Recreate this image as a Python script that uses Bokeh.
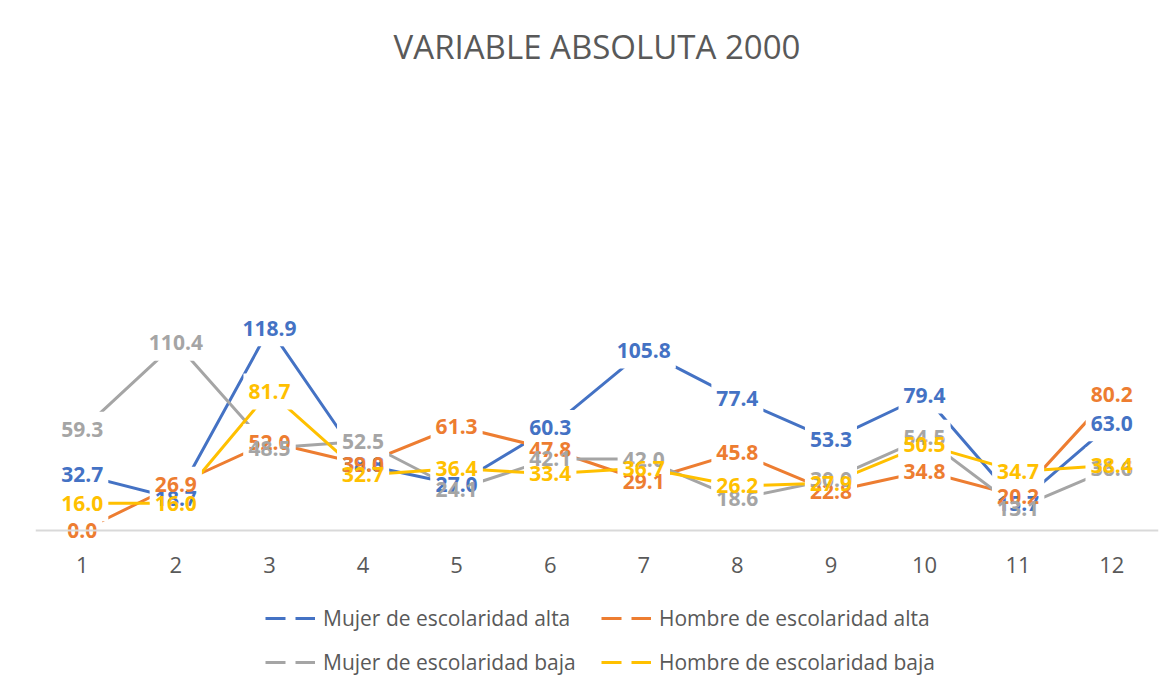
from bokeh.plotting import figure
from bokeh.layouts import column
from bokeh.models import FactorRange, Range1d, Span, Legend, LegendItem
from bokeh.core.properties import value
from bokeh.embed import file_html
from bokeh.resources import INLINE

categories = ["1", "2", "3", "4", "5", "6", "7", "8", "9", "10", "11", "12"]
mujer_alta = [32.7, 18.7, 118.9, 38.8, 27.0, 60.3, 105.8, 77.4, 53.3, 79.4, 15.7, 63.0]
hombre_alta = [0.0, 26.9, 52.0, 39.0, 61.3, 47.8, 29.1, 45.8, 22.8, 34.8, 20.2, 80.2]
mujer_baja = [59.3, 110.4, 48.5, 52.5, 24.1, 42.1, 42.0, 18.6, 30.0, 54.5, 13.1, 36.6]
hombre_baja = [16.0, 16.0, 81.7, 32.7, 36.4, 33.4, 36.7, 26.2, 27.9, 50.5, 34.7, 38.4]

series_names = ["Mujer de escolaridad alta", "Hombre de escolaridad alta",
                "Mujer de escolaridad baja", "Hombre de escolaridad baja"]
series_values = [mujer_alta, hombre_alta, mujer_baja, hombre_baja]
colors = ["#4472C4", "#ED7D31", "#A5A5A5", "#FFC000"]

TEXT = "#595959"
FONT = "Open Sans"
LBL_FS = 21
BL, BR = 35, 2

x_range = FactorRange(factors=categories)

# ---- main chart (lines + labels) ----
p = figure(width=1160, height=548, output_backend="svg", toolbar_location=None,
           x_range=x_range, y_range=Range1d(-10.6, 268.8),
           x_axis_location=None, y_axis_location=None,
           min_border_left=BL, min_border_right=BR, min_border_top=73, min_border_bottom=0)
p.outline_line_color = None
p.xgrid.grid_line_color = None
p.ygrid.grid_line_color = None

p.title.text = "VARIABLE ABSOLUTA 2000"
p.title.align = "center"
p.title.text_font = FONT
p.title.text_font_size = "33px"
p.title.text_font_style = "normal"
p.title.text_color = TEXT

p.add_layout(Span(location=0, dimension="width", line_color="#D9D9D9", line_width=2))

def text_width(s):
    return sum(0.285 if c == "." else 0.572 for c in s) * LBL_FS

for vals, c in zip(series_values, colors):
    p.line(categories, vals, line_color=c, line_width=3)

# white label backgrounds hide the lines behind the labels
for vals in series_values:
    texts = [f"{v:.1f}" for v in vals]
    widths = [text_width(t) + 10 for t in texts]
    p.rect(x=categories, y=vals, width=widths, height=36, width_units="screen", height_units="screen",
           fill_color="white", line_color=None)

for vals, c in zip(series_values, colors):
    texts = [f"{v:.1f}" for v in vals]
    p.text(x=categories, y=vals, text=texts, text_font=value(FONT), text_font_style="bold",
           text_font_size=f"{LBL_FS}px", text_color=c, text_align="center", text_baseline="middle")

# ---- bottom strip: category axis + legend ----
p2 = figure(width=1160, height=140, output_backend="svg", toolbar_location=None,
            x_range=x_range, y_range=Range1d(0, 1),
            x_axis_location="above", y_axis_location=None,
            min_border_left=BL, min_border_right=BR, min_border_top=26, min_border_bottom=0)
p2.outline_line_color = None
p2.xgrid.grid_line_color = None
p2.ygrid.grid_line_color = None

ax = p2.xaxis[0]
ax.axis_line_color = None
ax.major_tick_line_color = None
ax.minor_tick_line_color = None
ax.major_tick_out = 0
ax.major_tick_in = 0
ax.major_label_text_font = FONT
ax.major_label_text_font_size = "22px"
ax.major_label_text_color = TEXT
ax.major_label_standoff = 2

samples = []
for c in colors:
    samples.append(p2.line(x=categories[:1], y=[2], line_color=c, line_width=3, line_dash="20 10"))

legend = Legend(items=[LegendItem(label=n, renderers=[r]) for n, r in zip(series_names, samples)],
                orientation="horizontal", ncols=2, location=(230, 11))
legend.label_text_font = FONT
legend.label_text_font_size = "21px"
legend.label_text_color = TEXT
legend.glyph_width = 50
legend.glyph_height = 30
legend.label_height = 30
legend.label_width = 264
legend.label_standoff = 8
legend.spacing = 14
legend.padding = 0
legend.margin = 0
legend.border_line_color = None
legend.background_fill_alpha = 0
p2.add_layout(legend)

layout = column(p, p2, spacing=0)
open("out.html", "w").write(file_html(layout, INLINE))
